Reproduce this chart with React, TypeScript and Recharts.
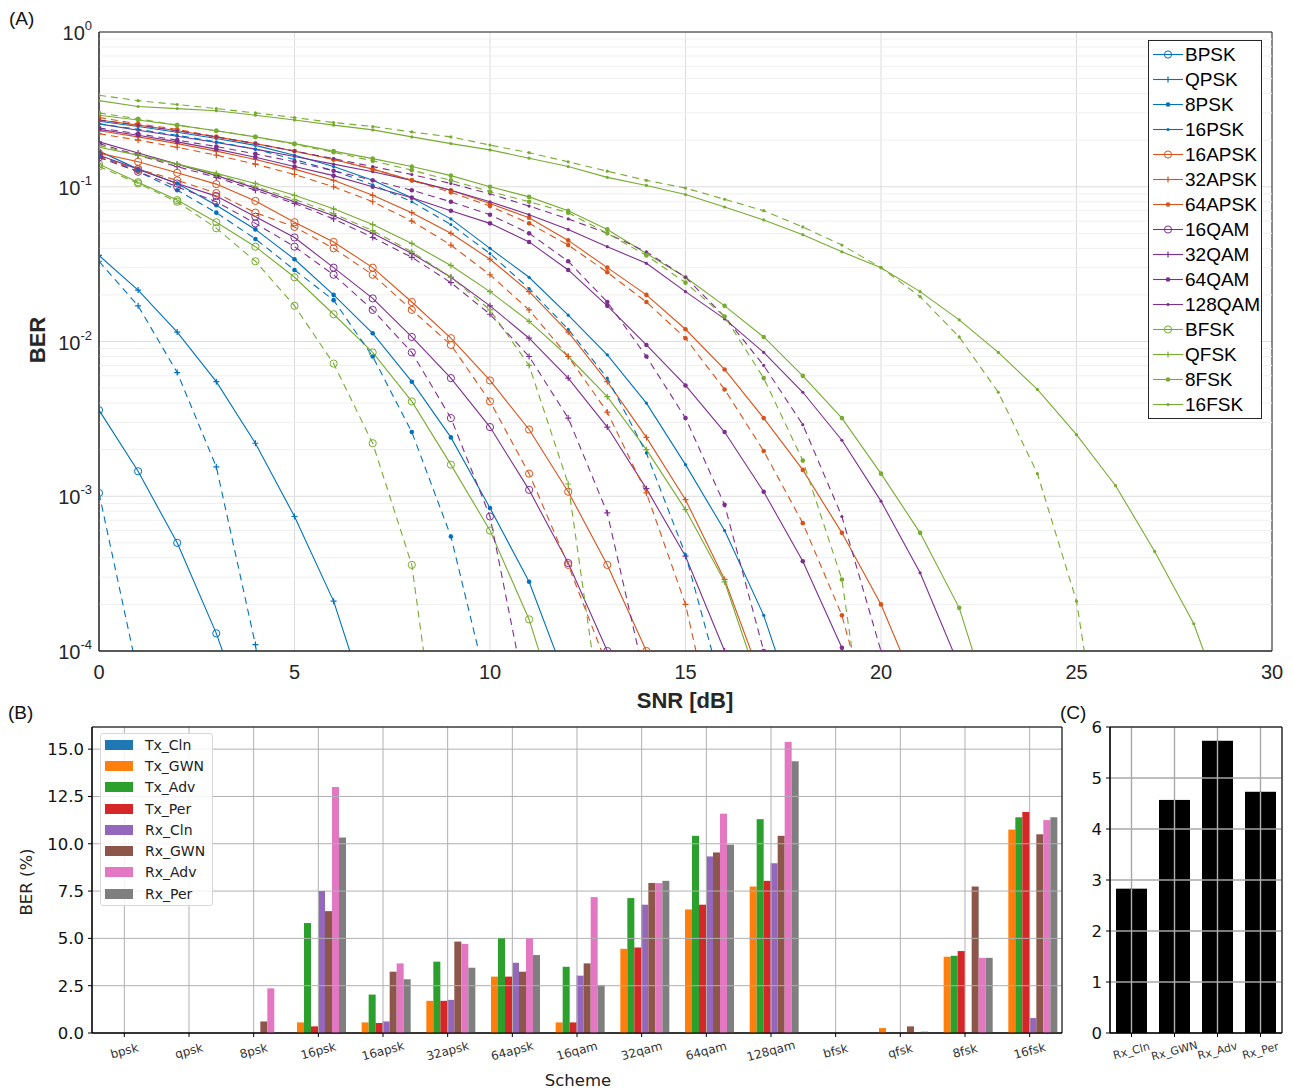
import React from 'react';
import {
  LineChart, Line, XAxis, YAxis, CartesianGrid, ReferenceLine, ReferenceArea, Legend,
  BarChart, Bar,
} from 'recharts';

// ---------------- Panel A data ----------------
const snrTicks = [0, 5, 10, 15, 20, 25, 30];
const berDecades = [1e-4, 1e-3, 1e-2, 1e-1, 1];
const berMinorTicks = [
  2e-4, 3e-4, 4e-4, 5e-4, 6e-4, 7e-4, 8e-4, 9e-4,
  2e-3, 3e-3, 4e-3, 5e-3, 6e-3, 7e-3, 8e-3, 9e-3,
  2e-2, 3e-2, 4e-2, 5e-2, 6e-2, 7e-2, 8e-2, 9e-2,
  0.2, 0.3, 0.4, 0.5, 0.6, 0.7, 0.8, 0.9,
];

const schemeNames = ['BPSK', 'QPSK', '8PSK', '16PSK', '16APSK', '32APSK', '64APSK', '16QAM', '32QAM', '64QAM', '128QAM', 'BFSK', 'QFSK', '8FSK', '16FSK'];
const schemeColors = ['#0072BD', '#0072BD', '#0072BD', '#0072BD', '#D95319', '#D95319', '#D95319', '#7E2F8E', '#7E2F8E', '#7E2F8E', '#7E2F8E', '#77AC30', '#77AC30', '#77AC30', '#77AC30'];
const schemeMarkers = ['o', '+', '*', '.', 'o', '+', '*', 'o', '+', '*', '.', 'o', '+', '*', '.'];

// BER per SNR (dB) = 0,1,2,... ; solid and dashed curve of each scheme
const bpskSolid = [3.6e-3, 1.45e-3, 5.0e-4, 1.3e-4, 2.5e-5];
const bpskDashed = [1.05e-3, 7e-5];
const qpskSolid = [0.036, 0.0215, 0.0115, 5.5e-3, 2.2e-3, 7.4e-4, 2.1e-4, 3.5e-5];
const qpskDashed = [0.033, 0.017, 6.3e-3, 1.55e-3, 1.1e-4, 2e-6];
const psk8Solid = [0.17, 0.13, 0.105, 0.076, 0.053, 0.034, 0.020, 0.0113, 5.5e-3, 2.4e-3, 8.4e-4, 2.8e-4, 6e-5];
const psk8Dashed = [0.16, 0.125, 0.095, 0.068, 0.046, 0.029, 0.0185, 8.0e-3, 2.6e-3, 5.5e-4, 5e-5];
const psk16Solid = [0.265, 0.245, 0.225, 0.205, 0.185, 0.16, 0.135, 0.11, 0.085, 0.062, 0.040, 0.026, 0.0148, 8.2e-3, 4.0e-3, 1.6e-3, 6.0e-4, 1.7e-4, 3e-5];
const psk16Dashed = [0.255, 0.235, 0.215, 0.195, 0.175, 0.15, 0.127, 0.103, 0.08, 0.057, 0.037, 0.022, 0.012, 5.8e-3, 1.9e-3, 4.2e-4, 5e-5];
const apsk16Solid = [0.165, 0.145, 0.123, 0.104, 0.081, 0.059, 0.044, 0.030, 0.018, 0.0105, 5.6e-3, 2.7e-3, 1.07e-3, 3.6e-4, 1.0e-4, 2e-5];
const apsk16Dashed = [0.155, 0.13, 0.11, 0.091, 0.068, 0.055, 0.04, 0.027, 0.016, 9.5e-3, 4.1e-3, 1.4e-3, 3.6e-4, 8e-5];
const apsk32Solid = [0.23, 0.21, 0.19, 0.17, 0.15, 0.13, 0.11, 0.088, 0.068, 0.05, 0.034, 0.021, 0.0115, 5.5e-3, 2.4e-3, 9.5e-4, 2.9e-4, 6e-5];
const apsk32Dashed = [0.22, 0.2, 0.18, 0.16, 0.14, 0.12, 0.1, 0.08, 0.06, 0.042, 0.027, 0.016, 8.0e-3, 3.5e-3, 1.05e-3, 2.0e-4, 1.5e-5];
const apsk64Solid = [0.27, 0.25, 0.23, 0.21, 0.19, 0.17, 0.15, 0.13, 0.11, 0.095, 0.078, 0.063, 0.045, 0.030, 0.020, 0.012, 6.6e-3, 3.2e-3, 1.48e-3, 5.8e-4, 2.0e-4, 5e-5];
const apsk64Dashed = [0.28, 0.255, 0.235, 0.21, 0.19, 0.17, 0.15, 0.13, 0.11, 0.092, 0.075, 0.058, 0.042, 0.028, 0.018, 0.0105, 4.9e-3, 1.96e-3, 6.7e-4, 1.7e-4, 2e-5];
const qam16Solid = [0.16, 0.13, 0.105, 0.087, 0.064, 0.047, 0.030, 0.019, 0.0107, 5.8e-3, 2.8e-3, 1.1e-3, 3.7e-4, 1.0e-4, 1.5e-5];
const qam16Dashed = [0.155, 0.125, 0.1, 0.08, 0.058, 0.041, 0.027, 0.016, 8.5e-3, 3.2e-3, 7.4e-4, 4e-5];
const qam32Solid = [0.195, 0.165, 0.14, 0.118, 0.098, 0.08, 0.065, 0.05, 0.037, 0.026, 0.017, 0.0105, 5.8e-3, 2.8e-3, 1.12e-3, 4.1e-4, 1.0e-4, 1.5e-5];
const qam32Dashed = [0.19, 0.16, 0.135, 0.115, 0.095, 0.078, 0.062, 0.047, 0.035, 0.024, 0.015, 8.0e-3, 3.2e-3, 7.8e-4, 6e-5];
const qam64Solid = [0.235, 0.215, 0.195, 0.175, 0.155, 0.135, 0.118, 0.1, 0.085, 0.07, 0.058, 0.044, 0.029, 0.017, 9.5e-3, 5.2e-3, 2.6e-3, 1.07e-3, 3.8e-4, 1.05e-4, 1.5e-5];
const qam64Dashed = [0.24, 0.22, 0.2, 0.182, 0.163, 0.145, 0.127, 0.11, 0.095, 0.08, 0.066, 0.05, 0.033, 0.018, 8.0e-3, 3.2e-3, 8.8e-4, 1.0e-4, 5e-6];
const qam128Solid = [0.255, 0.232, 0.212, 0.193, 0.175, 0.157, 0.14, 0.125, 0.11, 0.095, 0.08, 0.066, 0.053, 0.041, 0.032, 0.021, 0.014, 8.5e-3, 4.7e-3, 2.3e-3, 9.3e-4, 3.2e-4, 8e-5];
const qam128Dashed = [0.27, 0.25, 0.23, 0.21, 0.19, 0.17, 0.152, 0.135, 0.12, 0.105, 0.09, 0.075, 0.062, 0.05, 0.038, 0.026, 0.0145, 7.0e-3, 2.9e-3, 7.4e-4, 1.0e-4, 5e-6];
const bfskSolid = [0.14, 0.107, 0.082, 0.059, 0.041, 0.026, 0.015, 8.5e-3, 4.1e-3, 1.6e-3, 6.0e-4, 1.6e-4, 2.5e-5];
const bfskDashed = [0.135, 0.105, 0.08, 0.054, 0.033, 0.017, 7.2e-3, 2.2e-3, 3.6e-4, 5e-6];
const qfskSolid = [0.18, 0.16, 0.14, 0.122, 0.105, 0.088, 0.072, 0.057, 0.043, 0.031, 0.021, 0.0135, 8.0e-3, 4.4e-3, 2.0e-3, 8.2e-4, 2.8e-4, 5e-5];
const qfskDashed = [0.185, 0.16, 0.14, 0.12, 0.1, 0.083, 0.067, 0.052, 0.038, 0.026, 0.016, 7.0e-3, 1.2e-3, 2e-5];
const fsk8Solid = [0.29, 0.27, 0.25, 0.23, 0.21, 0.19, 0.17, 0.152, 0.135, 0.118, 0.1, 0.086, 0.07, 0.053, 0.037, 0.026, 0.017, 0.0107, 6.0e-3, 3.2e-3, 1.4e-3, 5.8e-4, 1.9e-4, 3e-5];
const fsk8Dashed = [0.30, 0.275, 0.25, 0.23, 0.21, 0.188, 0.167, 0.147, 0.128, 0.11, 0.093, 0.08, 0.068, 0.05, 0.036, 0.024, 0.0145, 5.8e-3, 1.7e-3, 2.9e-4, 5e-6];
const fsk16Solid = [0.36, 0.33, 0.32, 0.31, 0.29, 0.27, 0.25, 0.233, 0.21, 0.19, 0.173, 0.153, 0.135, 0.115, 0.102, 0.089, 0.074, 0.061, 0.049, 0.038, 0.030, 0.021, 0.0138, 8.5e-3, 4.9e-3, 2.5e-3, 1.17e-3, 4.4e-4, 1.5e-4, 3e-5];
const fsk16Dashed = [0.39, 0.36, 0.34, 0.32, 0.30, 0.28, 0.26, 0.245, 0.226, 0.21, 0.186, 0.166, 0.145, 0.126, 0.11, 0.098, 0.083, 0.070, 0.055, 0.042, 0.030, 0.0195, 0.0107, 4.7e-3, 1.4e-3, 2.1e-4, 5e-6];

const solidCurves = [bpskSolid, qpskSolid, psk8Solid, psk16Solid, apsk16Solid, apsk32Solid, apsk64Solid, qam16Solid, qam32Solid, qam64Solid, qam128Solid, bfskSolid, qfskSolid, fsk8Solid, fsk16Solid];
const dashedCurves = [bpskDashed, qpskDashed, psk8Dashed, psk16Dashed, apsk16Dashed, apsk32Dashed, apsk64Dashed, qam16Dashed, qam32Dashed, qam64Dashed, qam128Dashed, bfskDashed, qfskDashed, fsk8Dashed, fsk16Dashed];

// ---------------- Panel B data ----------------
const schemeCategories = ['bpsk', 'qpsk', '8psk', '16psk', '16apsk', '32apsk', '64apsk', '16qam', '32qam', '64qam', '128qam', 'bfsk', 'qfsk', '8fsk', '16fsk'];
const txCln = [0, 0, 0, 0, 0, 0, 0, 0, 0, 0, 0, 0, 0, 0, 0];
const txGwn = [0, 0, 0, 0.56, 0.56, 1.7, 2.98, 0.56, 4.45, 6.53, 7.74, 0, 0.26, 4.03, 10.75];
const txAdv = [0, 0, 0, 5.81, 2.03, 3.77, 5.0, 3.5, 7.13, 10.42, 11.3, 0, 0, 4.08, 11.4];
const txPer = [0, 0, 0, 0.35, 0.53, 1.7, 2.98, 0.56, 4.52, 6.78, 8.04, 0, 0, 4.33, 11.68];
const rxCln = [0, 0, 0, 7.5, 0.61, 1.75, 3.71, 3.03, 6.78, 9.33, 8.97, 0, 0, 0, 0.79];
const rxGwn = [0, 0, 0.61, 6.44, 3.24, 4.83, 3.24, 3.68, 7.93, 9.54, 10.42, 0, 0.35, 7.74, 10.5];
const rxAdv = [0, 0, 2.36, 13.0, 3.68, 4.71, 5.0, 7.18, 7.92, 11.59, 15.38, 0, 0, 3.97, 11.25];
const rxPer = [0, 0, 0, 10.33, 2.84, 3.45, 4.12, 2.54, 8.04, 9.95, 14.36, 0, 0.07, 3.97, 11.4];
const barSeriesNames = ['Tx_Cln', 'Tx_GWN', 'Tx_Adv', 'Tx_Per', 'Rx_Cln', 'Rx_GWN', 'Rx_Adv', 'Rx_Per'];
const barSeriesColors = ['#1f77b4', '#ff7f0e', '#2ca02c', '#d62728', '#9467bd', '#8c564b', '#e377c2', '#7f7f7f'];
const barSeriesValues = [txCln, txGwn, txAdv, txPer, rxCln, rxGwn, rxAdv, rxPer];
const berPctTicks = [0, 2.5, 5, 7.5, 10, 12.5, 15];

// ---------------- Panel C data ----------------
const rxLabels = ['Rx_Cln', 'Rx_GWN', 'Rx_Adv', 'Rx_Per'];
const rxMeanBer = [2.83, 4.57, 5.73, 4.73];
const meanTicks = [0, 1, 2, 3, 4, 5, 6];

// ---------------- derived tables ----------------
const barRows = schemeCategories.map((c, i) => {
  const row: any = { scheme: c };
  barSeriesNames.forEach((n, k) => { row[n] = barSeriesValues[k][i]; });
  return row;
});
const meanRows = rxLabels.map((l, i) => ({ label: l, meanBer: rxMeanBer[i] }));
const toPts = (arr: number[]) => arr.map((v, i) => ({ snr: i, ber: v }));

const MATLAB_FONT = '"Liberation Sans", Arial, Helvetica, sans-serif';
const MPL_FONT = '"DejaVu Sans", sans-serif';
const GRID = '#b0b0b0';

function Marker({ kind, cx, cy, color }: { kind: string; cx: number; cy: number; color: string }) {
  if (kind === 'o') return <circle cx={cx} cy={cy} r={3.6} fill="none" stroke={color} strokeWidth={1} />;
  if (kind === '+') return <path d={`M${cx - 3},${cy}H${cx + 3}M${cx},${cy - 3}V${cy + 3}`} stroke={color} strokeWidth={1.2} />;
  if (kind === '*') return <circle cx={cx} cy={cy} r={2.3} fill={color} />;
  return <circle cx={cx} cy={cy} r={1.6} fill={color} />;
}

const makeDot = (kind: string, color: string) => (p: any) => {
  const k = `d-${p.index}`;
  if (p.cx == null || p.cy == null || isNaN(p.cx) || isNaN(p.cy)) return <g key={k} />;
  return <g key={k}><Marker kind={kind} cx={p.cx} cy={p.cy} color={color} /></g>;
};

// Bar that also re-draws the grid lines crossing it (matplotlib draws its grid above bars).
// Pixel positions come from the bar's own scaled geometry.
const gridBar = (dataKey: string, step: number, vLine: 'center' | 'left' | null, sw: number) => (p: any) => {
  const { x, y, width, height, fill } = p;
  const v = p.payload ? Number(p.payload[dataKey]) : 0;
  if (!height || height <= 0 || !v) return <g />;
  const ppu = height / v;
  const base = y + height;
  const lines: React.ReactNode[] = [];
  for (let k = step; k * ppu < height - 0.5; k += step) {
    const yy = base - k * ppu;
    lines.push(<line key={`h${k}`} x1={x} x2={x + width} y1={yy} y2={yy} stroke={GRID} strokeWidth={sw} />);
  }
  if (vLine) {
    const xx = vLine === 'center' ? x + width / 2 : x + 0.5;
    lines.push(<line key="v" x1={xx} x2={xx} y1={y} y2={base} stroke={GRID} strokeWidth={sw} />);
  }
  return (
    <g>
      <rect x={x} y={y} width={width} height={height} fill={fill} />
      {lines}
    </g>
  );
};

const TickXA = (p: any) => (
  <text x={p.x} y={p.y + 28} textAnchor="middle" fontSize={20} fill="#262626" fontFamily={MATLAB_FONT}>
    {p.payload.value}
  </text>
);
const TickYA = (p: any) => {
  const e = Math.round(Math.log10(p.payload.value));
  return (
    <text x={p.x - 7} y={p.y + 8} textAnchor="end" fontSize={20} fill="#262626" fontFamily={MATLAB_FONT}>
      <tspan>10</tspan>
      <tspan fontSize={13} dy={-10}>{String(e)}</tspan>
    </text>
  );
};

const LegendA = () => (
  <div style={{ border: '1px solid #262626', background: '#fff', width: 114, boxSizing: 'border-box', padding: '1px 0' }}>
    {schemeNames.map((n, i) => (
      <div key={n} style={{ display: 'flex', alignItems: 'center', height: 25 }}>
        <svg width={36} height={25} style={{ flex: 'none' }}>
          <line x1={4} x2={34} y1={12.5} y2={12.5} stroke={schemeColors[i]} strokeWidth={1.1} />
          <Marker kind={schemeMarkers[i]} cx={19} cy={12.5} color={schemeColors[i]} />
        </svg>
        <span style={{ fontSize: 19, fontFamily: MATLAB_FONT, color: '#000', lineHeight: '25px', whiteSpace: 'nowrap' }}>{n}</span>
      </div>
    ))}
  </div>
);

const LegendB = () => (
  <div style={{ border: '1px solid #d8d8d8', borderRadius: 3, background: 'rgba(255,255,255,0.85)', width: 113, boxSizing: 'border-box', padding: '0 0 1px 4px' }}>
    {barSeriesNames.map((n, i) => (
      <div key={n} style={{ display: 'flex', alignItems: 'center', height: 21.3 }}>
        <div style={{ width: 28, height: 10, background: barSeriesColors[i], flex: 'none' }} />
        <span style={{ marginLeft: 12, fontSize: 14, fontFamily: MPL_FONT, color: '#222', whiteSpace: 'nowrap' }}>{n}</span>
      </div>
    ))}
  </div>
);

const RotTick = (fs: number) => (p: any) => (
  <text
    x={p.x}
    y={p.y + 12}
    textAnchor="middle"
    dominantBaseline="central"
    fontSize={fs}
    fill="#333"
    fontFamily={MPL_FONT}
    transform={`rotate(-15, ${p.x}, ${p.y + 12})`}
  >
    {p.payload.value}
  </text>
);

const label = (text: string, style: React.CSSProperties) => (
  <div style={{ position: 'absolute', whiteSpace: 'nowrap', ...style }}>{text}</div>
);

export default function App() {
  return (
    <div style={{ position: 'absolute', left: 0, top: 0, width: 1292, height: 1091, background: '#fff', overflow: 'hidden' }}>
      {/* Panel A */}
      <div style={{ position: 'absolute', left: 0, top: 0 }}>
        <LineChart width={1292} height={700} margin={{ top: 32, right: 20, bottom: 19, left: 39 }}>
          <XAxis
            dataKey="snr" type="number" domain={[0, 30]} ticks={snrTicks} allowDataOverflow
            tick={TickXA} tickLine={false} tickSize={0} tickMargin={0} height={30}
            axisLine={{ stroke: '#262626' }}
          />
          <YAxis
            type="number" scale="log" domain={[1e-4, 1]} ticks={berDecades} allowDataOverflow
            tick={TickYA} tickLine={false} tickSize={0} tickMargin={0} width={60}
            axisLine={{ stroke: '#262626' }}
          />
          {berMinorTicks.map((v) => (
            <ReferenceLine key={`mn${v}`} y={v} stroke="#efefef" strokeWidth={1} />
          ))}
          <CartesianGrid stroke="#dcdcdc" strokeWidth={1} />
          {solidCurves.map((arr, i) => (
            <Line
              key={`s${i}`} data={toPts(arr)} dataKey="ber" name={schemeNames[i]} type="linear"
              stroke={schemeColors[i]} strokeWidth={1.1} dot={makeDot(schemeMarkers[i], schemeColors[i])}
              activeDot={false} isAnimationActive={false}
            />
          ))}
          {dashedCurves.map((arr, i) => (
            <Line
              key={`d${i}`} data={toPts(arr)} dataKey="ber" name={`${schemeNames[i]} dashed`} type="linear"
              stroke={schemeColors[i]} strokeWidth={1.1} strokeDasharray="7 5" legendType="none"
              dot={makeDot(schemeMarkers[i], schemeColors[i])} activeDot={false} isAnimationActive={false}
            />
          ))}
          <ReferenceArea x1={0} x2={30} y1={1e-4} y2={1} fill="none" stroke="#262626" strokeWidth={1} ifOverflow="visible" />
          <Legend
            layout="horizontal" verticalAlign="middle" align="center"
            wrapperStyle={{ left: 1148, top: 40, width: 114 }}
            content={() => <LegendA />}
          />
        </LineChart>
      </div>
      {label('(A)', { left: 9, top: 8, fontSize: 19, fontFamily: MATLAB_FONT, color: '#111' })}
      <div style={{ position: 'absolute', left: 38, top: 340, transform: 'translate(-50%,-50%) rotate(-90deg)', fontSize: 22, fontWeight: 'bold', fontFamily: MATLAB_FONT, color: '#262626' }}>BER</div>
      <div style={{ position: 'absolute', left: 685, top: 701, transform: 'translate(-50%,-50%)', fontSize: 22, fontWeight: 'bold', fontFamily: MATLAB_FONT, color: '#262626', whiteSpace: 'nowrap' }}>SNR [dB]</div>

      {/* Panel B */}
      <div style={{ position: 'absolute', left: 0, top: 700 }}>
        <BarChart width={1070} height={391} data={barRows} margin={{ top: 27, right: 8, bottom: 18, left: 42 }} barGap={0} barCategoryGap={4}>
          <CartesianGrid stroke={GRID} strokeWidth={1} />
          <XAxis
            dataKey="scheme" tick={RotTick(12)} tickSize={4} tickMargin={2} height={40}
            axisLine={{ stroke: '#000' }} tickLine={{ stroke: '#000' }} interval={0}
          />
          <YAxis
            type="number" domain={[0, 16.17]} ticks={berPctTicks} allowDataOverflow
            tickFormatter={(v: number) => v.toFixed(1)} width={50} tickSize={4} tickMargin={4}
            tick={{ fontSize: 16.5, fill: '#111', fontFamily: MPL_FONT }}
            axisLine={{ stroke: '#000' }} tickLine={{ stroke: '#000' }}
          />
          {barSeriesNames.map((n, i) => (
            <Bar
              key={n} dataKey={n} fill={barSeriesColors[i]} isAnimationActive={false}
              shape={gridBar(n, 2.5, i === 4 ? 'left' : null, 1)}
            />
          ))}
          <ReferenceArea y1={0} y2={16.17} fill="none" stroke="#000" strokeWidth={1} ifOverflow="visible" />
          <Legend
            layout="horizontal" verticalAlign="middle" align="center"
            wrapperStyle={{ left: 100, top: 33, width: 113 }}
            content={() => <LegendB />}
          />
        </BarChart>
      </div>
      {label('(B)', { left: 8, top: 702, fontSize: 19, fontFamily: MATLAB_FONT, color: '#111' })}
      <div style={{ position: 'absolute', left: 26, top: 882, transform: 'translate(-50%,-50%) rotate(-90deg)', fontSize: 16.5, fontFamily: MPL_FONT, color: '#222', whiteSpace: 'nowrap' }}>BER (%)</div>
      <div style={{ position: 'absolute', left: 578, top: 1080, transform: 'translate(-50%,-50%)', fontSize: 16.5, fontFamily: MPL_FONT, color: '#222', whiteSpace: 'nowrap' }}>Scheme</div>

      {/* Panel C */}
      <div style={{ position: 'absolute', left: 1050, top: 700 }}>
        <BarChart width={242} height={391} data={meanRows} margin={{ top: 27, right: 10, bottom: 18, left: 30 }} barCategoryGap={6}>
          <CartesianGrid stroke="#a8a8a8" strokeWidth={1.4} />
          <XAxis
            dataKey="label" tick={RotTick(11)} tickSize={4} tickMargin={2} height={40}
            axisLine={{ stroke: '#000' }} tickLine={{ stroke: '#000' }} interval={0}
          />
          <YAxis
            type="number" domain={[0, 6]} ticks={meanTicks} width={30} tickSize={4} tickMargin={4}
            tick={{ fontSize: 16.5, fill: '#111', fontFamily: MPL_FONT }}
            axisLine={{ stroke: '#000' }} tickLine={{ stroke: '#000' }}
          />
          <Bar dataKey="meanBer" fill="#000" isAnimationActive={false} shape={gridBar('meanBer', 1, 'center', 1.4)} />
          <ReferenceArea y1={0} y2={6} fill="none" stroke="#000" strokeWidth={1} ifOverflow="visible" />
        </BarChart>
      </div>
      {label('(C)', { left: 1060, top: 702, fontSize: 19, fontFamily: MATLAB_FONT, color: '#111' })}
    </div>
  );
}
